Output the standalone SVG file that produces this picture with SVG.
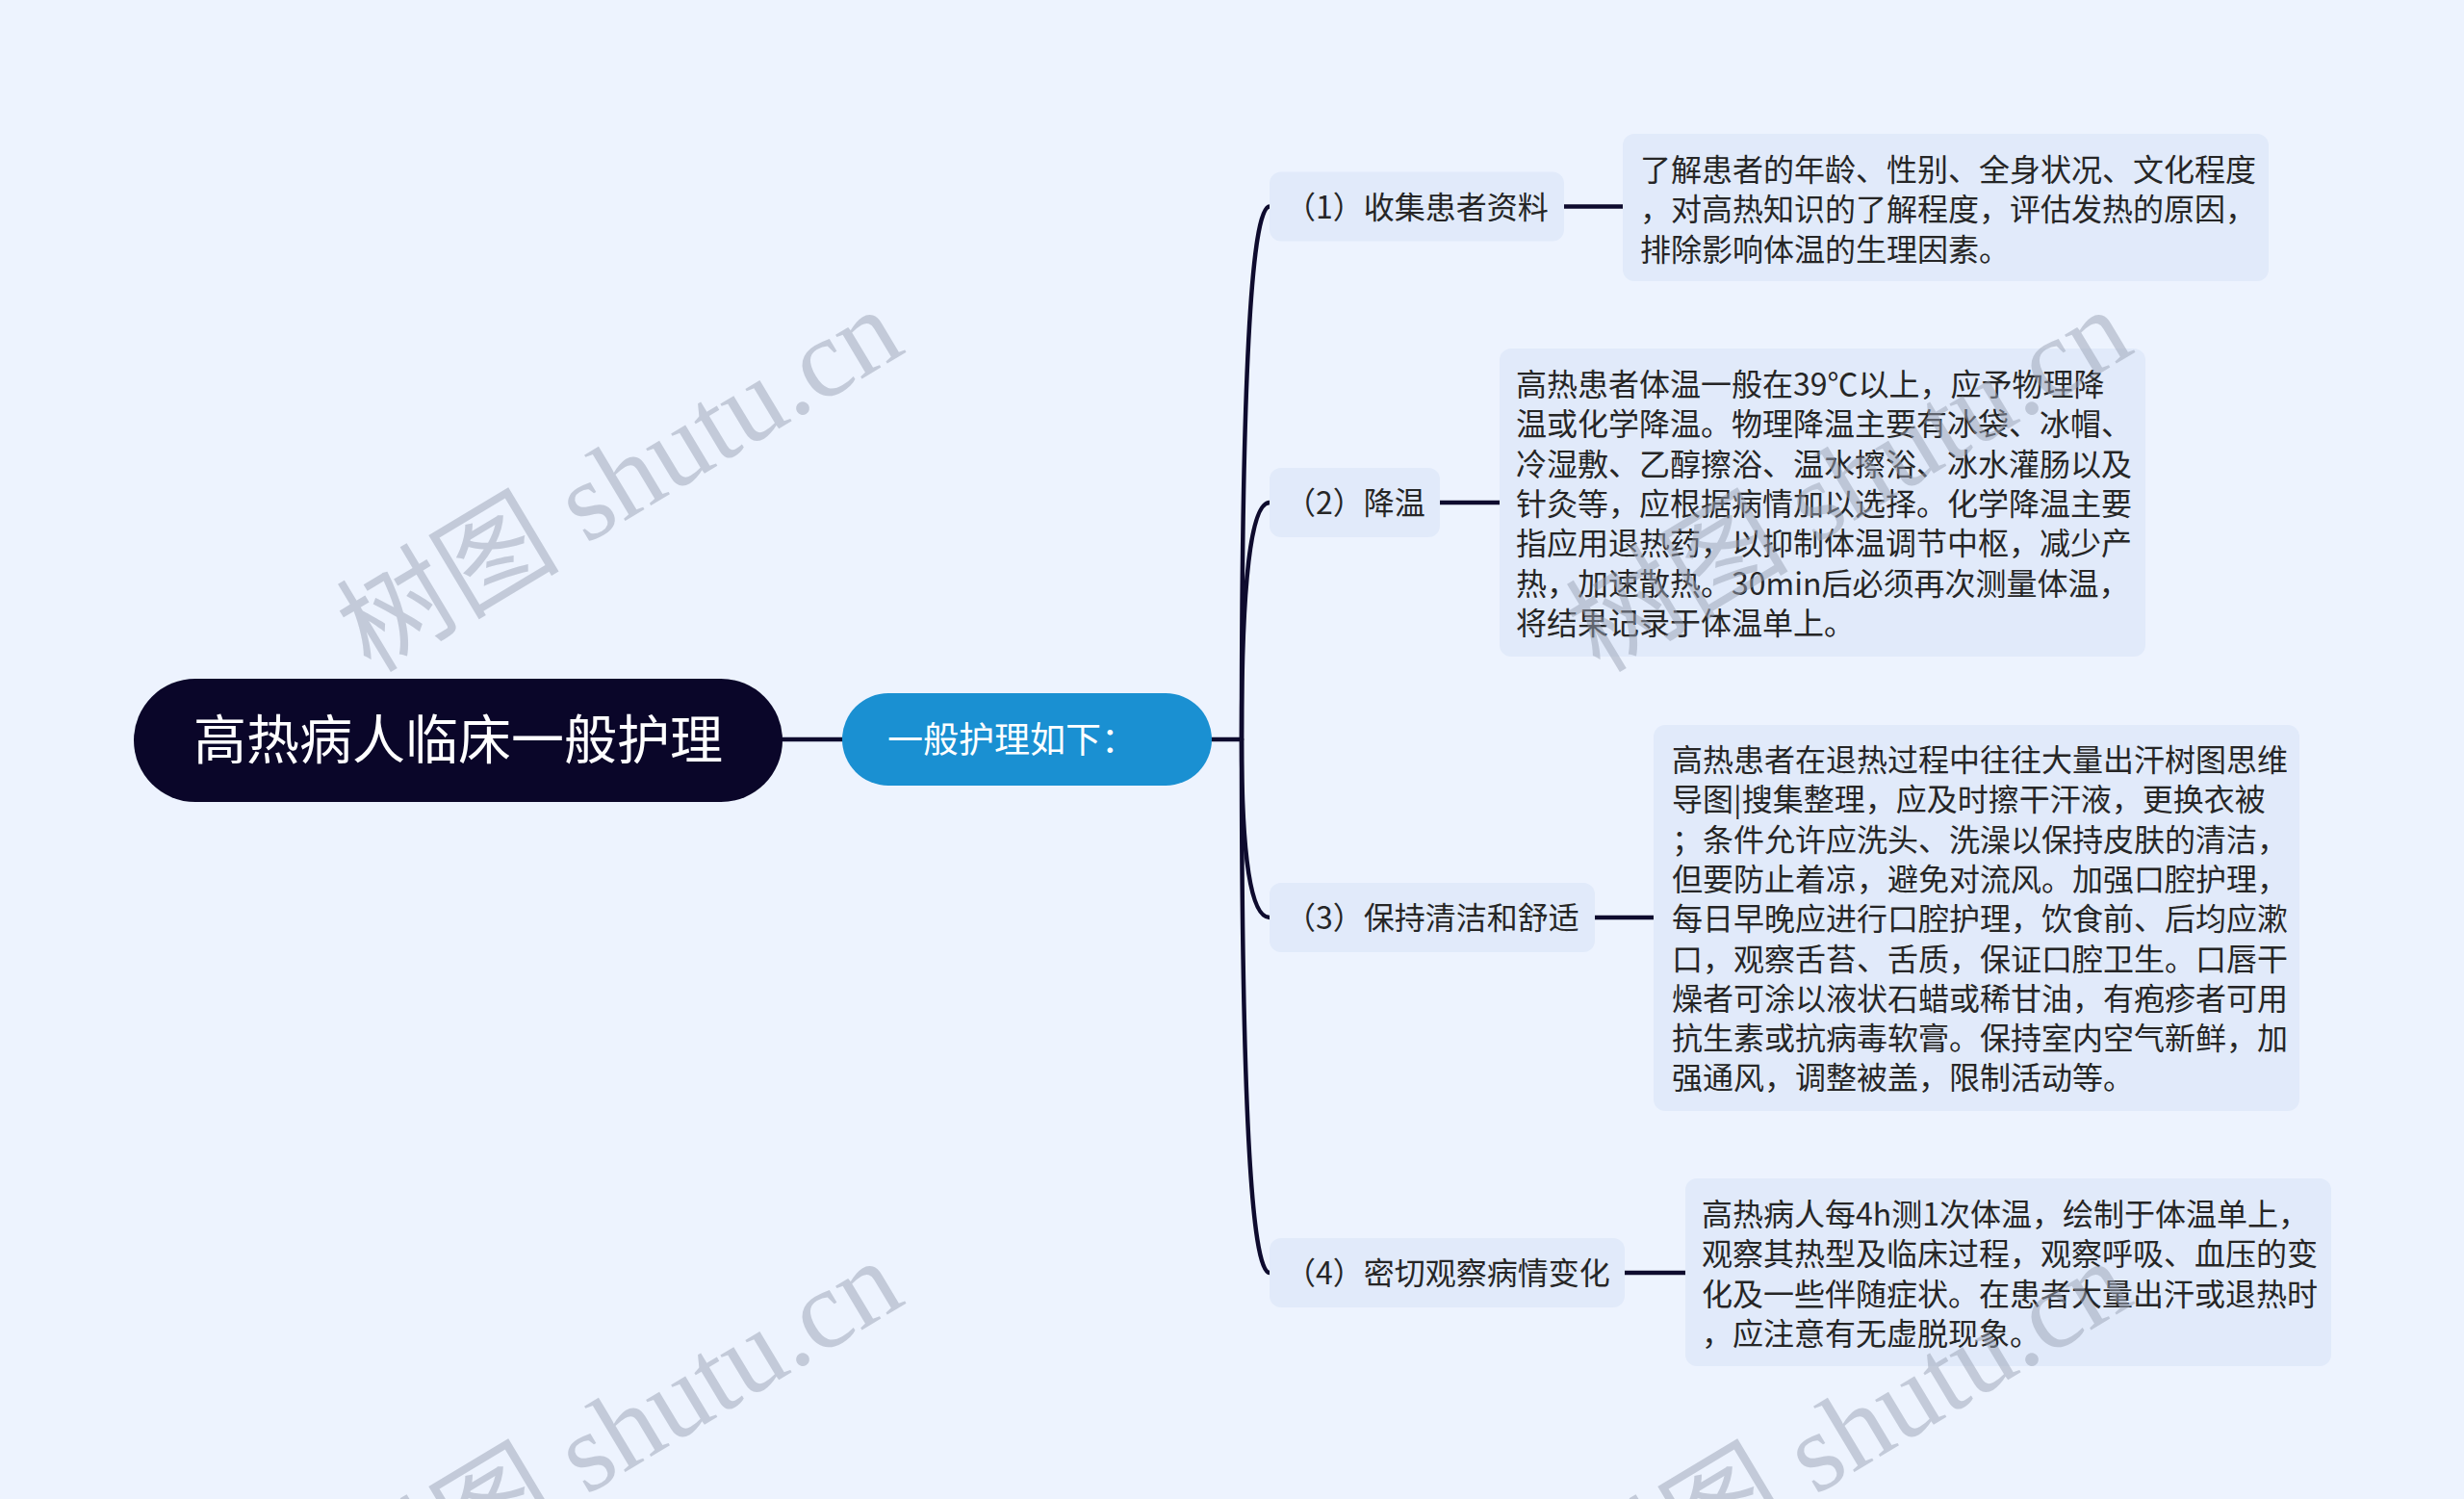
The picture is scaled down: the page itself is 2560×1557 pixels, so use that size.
<svg xmlns="http://www.w3.org/2000/svg" width="2560" height="1557" viewBox="0 0 2560 1557">
<defs>
<style>
.t{font-family:"Noto Sans CJK SC","Noto Sans",sans-serif;}
.lbl{font-size:32px;fill:#262626;}
.box{fill:#e1eafa;}
.conn{fill:none;stroke:#0e0b2e;stroke-width:4.5;stroke-linecap:round;}
.wm{font-family:"Liberation Serif","Noto Sans CJK SC",serif;font-size:116px;fill:#9aa3b5;opacity:0.5;}
</style>
</defs>
<rect x="0" y="0" width="2560" height="1557" fill="#edf3fe"/>
<g id="connectors">
<path class="conn" d="M813 768 L875 768"/>
<path class="conn" d="M1259 768 L1290 768"/>
<path class="conn" d="M1290 768 Q1290 214.5 1319 214.5"/>
<path class="conn" d="M1290 768 Q1290 522 1319 522"/>
<path class="conn" d="M1290 768 Q1290 953 1319 953"/>
<path class="conn" d="M1290 768 Q1290 1322 1319 1322"/>
<path class="conn" d="M1625 214.5 L1686 214.5"/>
<path class="conn" d="M1496 522 L1558 522"/>
<path class="conn" d="M1657 953 L1718 953"/>
<path class="conn" d="M1688 1322 L1751 1322"/>
</g>
<g id="root">
<rect x="139" y="705" width="674" height="128" rx="64" fill="#0a0629"/>
<text class="t" x="476" y="788" text-anchor="middle" font-size="55" fill="#ffffff">高热病人临床一般护理</text>
</g>
<g id="level1">
<rect x="875" y="720" width="384" height="96" rx="48" fill="#1a90d2"/>
<text class="t" x="922" y="782" font-size="37" fill="#ffffff">一般护理如下：</text>
</g>
<g id="item1">
<rect class="box" x="1319" y="178.5" width="306" height="72" rx="12"/>
<text class="t lbl" x="1335" y="226.5">（1）收集患者资料</text>
</g>
<g id="item2">
<rect class="box" x="1319" y="486" width="177" height="72" rx="12"/>
<text class="t lbl" x="1335" y="534">（2）降温</text>
</g>
<g id="item3">
<rect class="box" x="1319" y="917" width="338" height="72" rx="12"/>
<text class="t lbl" x="1335" y="965">（3）保持清洁和舒适</text>
</g>
<g id="item4">
<rect class="box" x="1319" y="1286" width="369" height="72" rx="12"/>
<text class="t lbl" x="1335" y="1334">（4）密切观察病情变化</text>
</g>
<g id="detail1">
<rect class="box" x="1686" y="139" width="671" height="153" rx="12"/>
<text class="t lbl" x="1704" y="188">
<tspan x="1704" y="188">了解患者的年龄、性别、全身状况、文化程度</tspan>
<tspan x="1704" y="229.3">，对高热知识的了解程度，评估发热的原因，</tspan>
<tspan x="1704" y="270.6">排除影响体温的生理因素。</tspan>
</text>
</g>
<g id="detail2">
<rect class="box" x="1558" y="362" width="671" height="320" rx="12"/>
<text class="t lbl" x="1575" y="411">
<tspan x="1575" y="411">高热患者体温一般在39℃以上，应予物理降</tspan>
<tspan x="1575" y="452.3">温或化学降温。物理降温主要有冰袋、冰帽、</tspan>
<tspan x="1575" y="493.6">冷湿敷、乙醇擦浴、温水擦浴、冰水灌肠以及</tspan>
<tspan x="1575" y="534.9">针灸等，应根据病情加以选择。化学降温主要</tspan>
<tspan x="1575" y="576.2">指应用退热药，以抑制体温调节中枢，减少产</tspan>
<tspan x="1575" y="617.5">热，加速散热。30min后必须再次测量体温，</tspan>
<tspan x="1575" y="658.8">将结果记录于体温单上。</tspan>
</text>
</g>
<g id="detail3">
<rect class="box" x="1718" y="753" width="671" height="401" rx="12"/>
<text class="t lbl" x="1737" y="801">
<tspan x="1737" y="801">高热患者在退热过程中往往大量出汗树图思维</tspan>
<tspan x="1737" y="842.3">导图|搜集整理，应及时擦干汗液，更换衣被</tspan>
<tspan x="1737" y="883.6">；条件允许应洗头、洗澡以保持皮肤的清洁，</tspan>
<tspan x="1737" y="924.9">但要防止着凉，避免对流风。加强口腔护理，</tspan>
<tspan x="1737" y="966.2">每日早晚应进行口腔护理，饮食前、后均应漱</tspan>
<tspan x="1737" y="1007.5">口，观察舌苔、舌质，保证口腔卫生。口唇干</tspan>
<tspan x="1737" y="1048.8">燥者可涂以液状石蜡或稀甘油，有疱疹者可用</tspan>
<tspan x="1737" y="1090.1">抗生素或抗病毒软膏。保持室内空气新鲜，加</tspan>
<tspan x="1737" y="1131.4">强通风，调整被盖，限制活动等。</tspan>
</text>
</g>
<g id="detail4">
<rect class="box" x="1751" y="1224" width="671" height="195" rx="12"/>
<text class="t lbl" x="1768" y="1273">
<tspan x="1768" y="1273">高热病人每4h测1次体温，绘制于体温单上，</tspan>
<tspan x="1768" y="1314.3">观察其热型及临床过程，观察呼吸、血压的变</tspan>
<tspan x="1768" y="1355.6">化及一些伴随症状。在患者大量出汗或退热时</tspan>
<tspan x="1768" y="1396.9">，应注意有无虚脱现象。</tspan>
</text>
</g>
<g id="watermarks">
<text class="wm" transform="translate(385,700) rotate(-31)">树图 shutu.cn</text>
<text class="wm" transform="translate(385,1688) rotate(-31)">树图 shutu.cn</text>
<text class="wm" transform="translate(1662,700) rotate(-31)">树图 shutu.cn</text>
<text class="wm" transform="translate(1662,1688) rotate(-31)">树图 shutu.cn</text>
</g>
</svg>
